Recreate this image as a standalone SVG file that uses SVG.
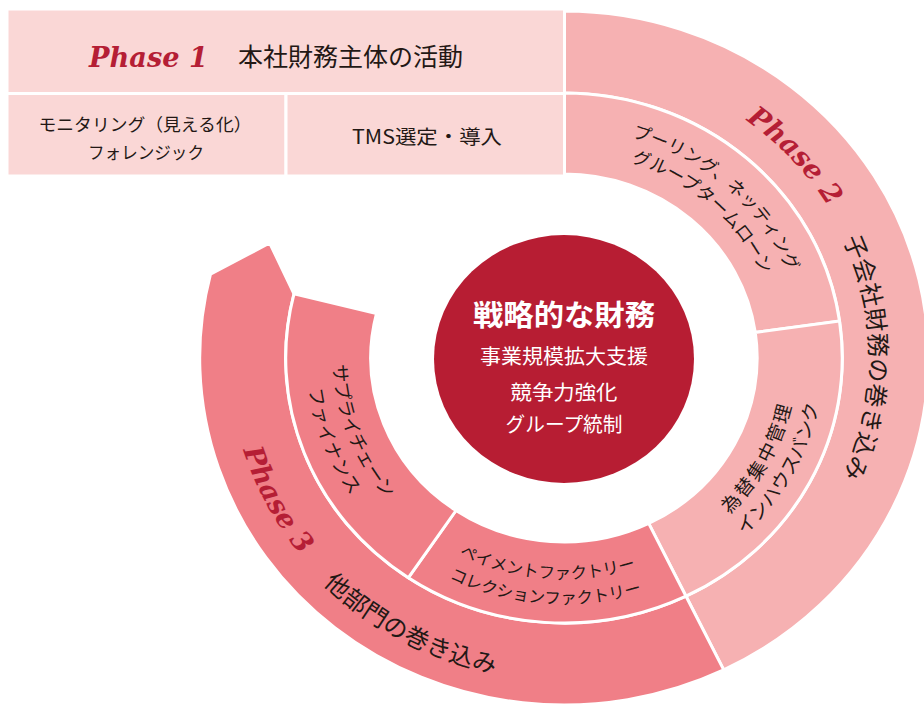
<svg xmlns="http://www.w3.org/2000/svg" width="924" height="705" viewBox="0 0 924 705">
<style>
.p1{fill:#FAD7D6;stroke:#fff;stroke-width:3}
.p2{fill:#F6B1B2;stroke:#fff;stroke-width:3}
.p3{fill:#F07F87;stroke:#fff;stroke-width:3}
.jp{font-family:"Noto Sans CJK JP","Noto Sans",sans-serif;fill:#231815}
.ph{font-family:"DejaVu Serif","Liberation Serif",serif;font-weight:bold;font-style:italic;fill:#B51E35}
.wt{font-family:"Noto Sans CJK JP","Noto Sans",sans-serif;fill:#fff;text-anchor:middle}
.mid{text-anchor:middle}
</style>
<defs>
<path id="tPh2" d="M607.0,66.9 A308.7,294 0 0 1 872.5,347.7"/>
<path id="tKo" d="M798.1,170.9 A305.55,291 0 0 1 798.1,545.1"/>
<path id="tPool1" d="M574.5,128.2 A241.5,230 0 0 1 803.4,328.0"/>
<path id="tPool2" d="M573.4,152.2 A216.3,206 0 0 1 778.4,331.1"/>
<path id="tFx1" d="M651.3,563.8 A233.1,222 0 0 0 792.0,311.8"/>
<path id="tFx2" d="M661.2,587.0 A259.35,247 0 0 0 817.7,306.6"/>
<path id="tScf1" d="M346.3,284.6 A231,220 0 0 0 450.3,549.5"/>
<path id="tScf2" d="M321.5,276.2 A257.25,245 0 0 0 437.3,571.2"/>
<path id="tPay1" d="M401.4,515.6 A232.05,221 0 0 0 698.8,537.9"/>
<path id="tPay2" d="M383.0,533.5 A258.3,246 0 0 0 714.0,558.3"/>
<path id="tPh3" d="M237.6,286.2 A334.95,319 0 0 0 433.1,651.6"/>
<path id="tTa" d="M248.4,473.4 A338.1,322 0 0 0 628.5,674.1"/>
</defs>

<g id="phase2-outer">
<path class="p2" d="M564,11 A364.35,347 0 0 1 723.7,669.9 L686.0,596.2 A278.25,265 0 0 0 564,93 Z"/>
<text class="ph" font-size="27.5"><textPath href="#tPh2" startOffset="50%" text-anchor="middle">Phase 2</textPath></text>
<text class="jp" font-size="24" letter-spacing="0.5"><textPath href="#tKo" startOffset="50%" text-anchor="middle">子会社財務の巻き込み</textPath></text>
</g>

<g id="phase2-pooling">
<path class="p2" d="M564,93 A278.25,265 0 0 1 839.5,321.1 L755.3,332.4 A193.2,184 0 0 0 564,174 Z"/>
<text class="jp" font-size="18"><textPath href="#tPool1" startOffset="50%" text-anchor="middle">プーリング、ネッティング</textPath></text>
<text class="jp" font-size="18"><textPath href="#tPool2" startOffset="50%" text-anchor="middle">グループタームローン</textPath></text>
</g>

<g id="phase2-ihb">
<path class="p2" d="M839.5,321.1 A278.25,265 0 0 1 686.0,596.2 L648.7,523.4 A193.2,184 0 0 0 755.3,332.4 Z"/>
<text class="jp" font-size="19" letter-spacing="2.5"><textPath href="#tFx1" startOffset="50%" text-anchor="middle">為替集中管理</textPath></text>
<text class="jp" font-size="19"><textPath href="#tFx2" startOffset="50%" text-anchor="middle">インハウスバンク</textPath></text>
</g>

<g id="phase3-outer">
<path class="p3" d="M723.7,669.9 A364.35,347 0 0 1 210.5,274.1 L269.7,243.0 L294.0,293.9 A278.25,265 0 0 0 686.0,596.2 Z"/>
<text class="ph" font-size="27.5"><textPath href="#tPh3" startOffset="50%" text-anchor="middle">Phase 3</textPath></text>
<text class="jp" font-size="24" letter-spacing="0.5"><textPath href="#tTa" startOffset="50%" text-anchor="middle">他部門の巻き込み</textPath></text>
</g>

<g id="phase3-payment">
<path class="p3" d="M686.0,596.2 A278.25,265 0 0 1 408.4,577.7 L456.0,510.5 A193.2,184 0 0 0 648.7,523.4 Z"/>
<text class="jp" font-size="16.5"><textPath href="#tPay1" startOffset="50%" text-anchor="middle">ペイメントファクトリー</textPath></text>
<text class="jp" font-size="16.5"><textPath href="#tPay2" startOffset="50%" text-anchor="middle">コレクションファクトリー</textPath></text>
</g>

<g id="phase3-scf">
<path class="p3" d="M408.4,577.7 A278.25,265 0 0 1 294.0,293.9 L376.5,313.5 A193.2,184 0 0 0 456.0,510.5 Z"/>
<text class="jp" font-size="18.5"><textPath href="#tScf1" startOffset="50%" text-anchor="middle">サプライチェーン</textPath></text>
<text class="jp" font-size="18.5" letter-spacing="1"><textPath href="#tScf2" startOffset="50%" text-anchor="middle">ファイナンス</textPath></text>
</g>

<g id="phase1">
<rect class="p1" x="7" y="9" width="557.5" height="84.5"/>
<rect class="p1" x="7" y="93.5" width="279" height="82.5"/>
<rect class="p1" x="286" y="93.5" width="278.5" height="82.5"/>
<text class="ph" x="89" y="66.5" font-size="27.5" textLength="119" lengthAdjust="spacingAndGlyphs">Phase 1</text>
<text class="jp" x="238" y="66" font-size="24.5" textLength="225" lengthAdjust="spacingAndGlyphs">本社財務主体の活動</text>
<text class="jp mid" x="145" y="131" font-size="17.5" textLength="213" lengthAdjust="spacingAndGlyphs">モニタリング（見える化）</text>
<text class="jp mid" x="146" y="159" font-size="17.5" textLength="116" lengthAdjust="spacingAndGlyphs">フォレンジック</text>
<text class="jp mid" x="427" y="144" font-size="19.5" textLength="150" lengthAdjust="spacingAndGlyphs">TMS選定・導入</text>
</g>

<g id="center">
<ellipse cx="564" cy="359" rx="130" ry="124" fill="#B71D33"/>
<text class="wt" x="564" y="326" font-size="29" font-weight="bold" textLength="182" lengthAdjust="spacingAndGlyphs">戦略的な財務</text>
<text class="wt" x="564" y="364" font-size="20" textLength="168" lengthAdjust="spacingAndGlyphs">事業規模拡大支援</text>
<text class="wt" x="564" y="400" font-size="20" textLength="107" lengthAdjust="spacingAndGlyphs">競争力強化</text>
<text class="wt" x="564" y="432" font-size="20" textLength="117" lengthAdjust="spacingAndGlyphs">グループ統制</text>
</g>

<g id="connectors"/>
</svg>
